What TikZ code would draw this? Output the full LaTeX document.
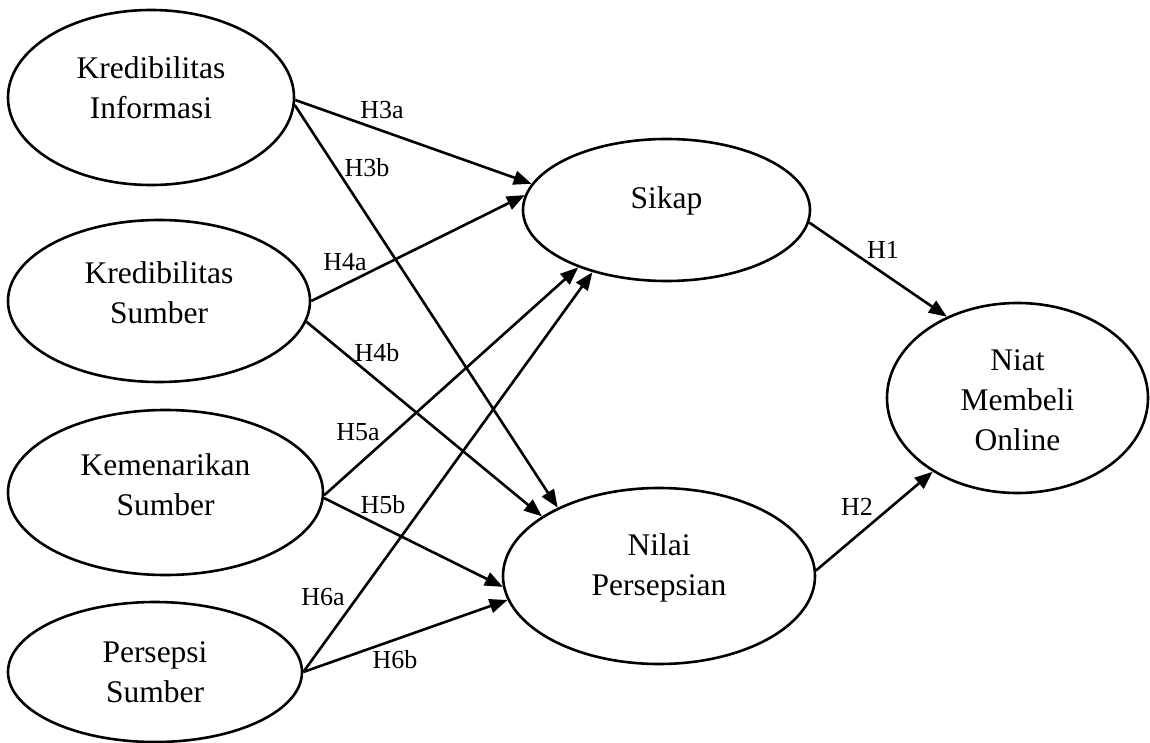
\documentclass[tikz,border=0pt]{standalone}
\usepackage{fontspec}
\setmainfont{Liberation Serif}
\usetikzlibrary{shapes.geometric,arrows.meta,calc}
\begin{document}
\begin{tikzpicture}[x=0.5pt,y=-0.5pt,
  var/.style={draw, ellipse, line width=1.3pt, inner sep=0pt},
  vtext/.style={align=center, font=\fontsize{15.75pt}{20pt}\selectfont, inner sep=0pt},
  hyp/.style={font=\fontsize{13pt}{15pt}\selectfont, inner sep=0pt},
  link/.style={line width=1.3pt, -{Triangle[length=9pt,width=7pt]}},
]
\useasboundingbox[fill=white] (0,0) rectangle (1150,743);
% latent variables
\node[var, minimum width=143pt, minimum height=87.5pt] (ki) at (151,97.5) {};
\node[var, minimum width=151pt, minimum height=81pt] (ks) at (159,301) {};
\node[var, minimum width=157.5pt, minimum height=82.5pt] (km) at (165.5,492.5) {};
\node[var, minimum width=147pt, minimum height=70pt] (ps) at (155,672) {};
\node[var, minimum width=143.5pt, minimum height=71pt] (sk) at (666.5,210) {};
\node[var, minimum width=156pt, minimum height=88pt] (np) at (659,576) {};
\node[var, minimum width=130.5pt, minimum height=95pt] (nm) at (1017.5,398) {};
% texts
\node[vtext] (tki) at ($(ki)+(0,-10)$) {Kredibilitas\\Informasi};
\node[vtext] (tks) at ($(ks)+(0,-8)$) {Kredibilitas\\Sumber};
\node[vtext] (tkm) at ($(km)+(0,-8)$) {Kemenarikan\\Sumber};
\node[vtext] (tps) at ($(ps)+(0,0)$) {Persepsi\\Sumber};
\node[vtext] (tsk) at ($(sk)+(0,-9)$) {Sikap};
\node[vtext] (tnp) at ($(np)+(0,-8)$) {Nilai\\Persepsian};
\node[vtext] (tnm) at ($(nm)+(0,2)$) {Niat\\Membeli\\Online};
% paths
\draw[link] (ki.-1) -- (sk.169);
\draw[link] (ki.-3) -- (np.146);
\draw[link] (ks.east) -- (sk.174);
\draw[link] (ks.-8) -- (np.153);
\draw[link] (km.-1) -- (sk.213);
\draw[link] (km.-2) -- (np.184);
\draw[link] (ps.east) -- (sk.220);
\draw[link] (ps.east) -- (np.189);
\draw[link] (sk.-5) -- (nm.131);
\draw[link] (np.2) -- (nm.221);
% hypothesis labels
\node[hyp] (h3a) at (382,110) {H3a};
\node[hyp] (h3b) at (367,168) {H3b};
\node[hyp] (h4a) at (345,262) {H4a};
\node[hyp] (h4b) at (377,353) {H4b};
\node[hyp] (h5a) at (358,432) {H5a};
\node[hyp] (h5b) at (383,505) {H5b};
\node[hyp] (h6a) at (323,597) {H6a};
\node[hyp] (h6b) at (395,660) {H6b};
\node[hyp] (h1) at (883,250) {H1};
\node[hyp] (h2) at (857,507) {H2};
\end{tikzpicture}
\end{document}
